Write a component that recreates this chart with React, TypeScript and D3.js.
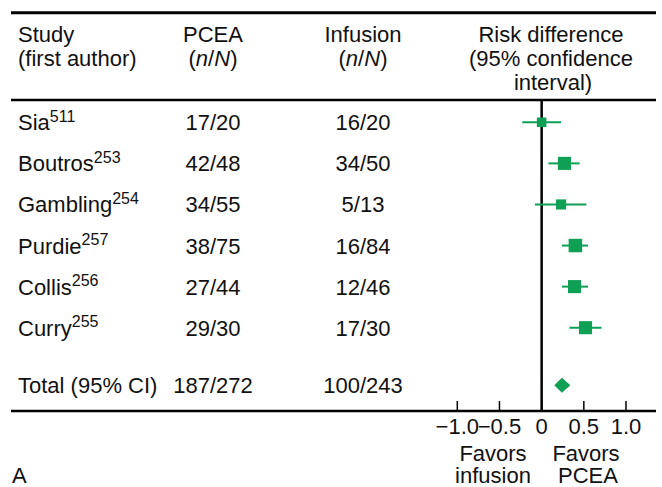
import * as d3 from 'd3';

// study rows
const studies = ['Sia', 'Boutros', 'Gambling', 'Purdie', 'Collis', 'Curry'];
const refs = ['511', '253', '254', '257', '256', '255'];
const pceaN = [17, 42, 34, 38, 27, 29];
const pceaTotal = [20, 48, 55, 75, 44, 30];
const infN = [16, 34, 5, 16, 12, 17];
const infTotal = [20, 50, 13, 84, 46, 30];
const rd = [0.0, 0.27, 0.23, 0.4, 0.39, 0.52];
const lower = [-0.23, 0.08, -0.08, 0.24, 0.24, 0.33];
const upper = [0.23, 0.45, 0.53, 0.55, 0.55, 0.71];
const weights = [8, 15, 9, 16, 15, 15];

// pooled result
const totalLabel = 'Total (95% CI)';
const totalPcea = '187/272';
const totalInf = '100/243';
const totalRd = 0.24;
const totalCi = [0.15, 0.34];

const ticks = [-1, -0.5, 0, 0.5, 1];

const W = 662;
const H = 487;
const FONT = '"Liberation Sans", Arial, Helvetica, sans-serif';
const GREEN = '#0f9f55';

const App = () => {
  const x = d3.scaleLinear().domain([-1, 1]).range([457.3, 626]);
  const y = d3.scaleLinear().domain([0, 5]).range([122.3, 327.7]);
  const size = d3.scaleSqrt().domain([0, d3.max(weights) as number]).range([0, 13.5]);
  const fmt = (v: number) => (v === 0 ? '0' : d3.format('.1f')(v));

  const left = 11;
  const right = 656;
  const axisY = 411;
  const colName = 18;
  const colPcea = 213;
  const colInf = 363;
  const colRd = 551;
  const totalY = y(6.4);
  const diamond = d3.line<[number, number]>();

  return (
    <svg
      width={W}
      height={H}
      style={{ position: 'absolute', left: 0, top: 0, background: '#fff' }}
      fontFamily={FONT}
      fontSize={22}
      fill="#111"
    >
      {/* rules */}
      <line x1={left} x2={right} y1={12.7} y2={12.7} stroke="#000" strokeWidth={3} />
      <line x1={left} x2={right} y1={100} y2={100} stroke="#000" strokeWidth={2.5} />
      <line x1={left} x2={right} y1={axisY} y2={axisY} stroke="#000" strokeWidth={2.5} />
      <line x1={x(0)} x2={x(0)} y1={100} y2={axisY} stroke="#000" strokeWidth={2.5} />

      {/* header */}
      <g>
        <text x={colName} y={41.5}>Study</text>
        <text x={colName} y={65.5}>(first author)</text>
        <text x={colPcea} y={41.5} textAnchor="middle">PCEA</text>
        <text x={colPcea} y={65.5} textAnchor="middle">
          (<tspan fontStyle="italic">n</tspan>/<tspan fontStyle="italic">N</tspan>)
        </text>
        <text x={colInf} y={41.5} textAnchor="middle">Infusion</text>
        <text x={colInf} y={65.5} textAnchor="middle">
          (<tspan fontStyle="italic">n</tspan>/<tspan fontStyle="italic">N</tspan>)
        </text>
        <text x={colRd} y={41.5} textAnchor="middle">Risk difference</text>
        <text x={colRd} y={65.5} textAnchor="middle">(95% confidence</text>
        <text x={colRd + 2} y={89.5} textAnchor="middle">interval)</text>
      </g>

      {/* rows */}
      {studies.map((s, i) => {
        const cy = y(i);
        const sz = size(weights[i]);
        return (
          <g key={s}>
            <text x={colName} y={cy + 8}>
              {s}
              <tspan fontSize={16} dy={-8.5}>{refs[i]}</tspan>
            </text>
            <text x={colPcea} y={cy + 8} textAnchor="middle">
              {pceaN[i]}/{pceaTotal[i]}
            </text>
            <text x={colInf} y={cy + 8} textAnchor="middle">
              {infN[i]}/{infTotal[i]}
            </text>
            <line x1={x(lower[i])} x2={x(upper[i])} y1={cy} y2={cy} stroke={GREEN} strokeWidth={2} />
            <rect x={x(rd[i]) - sz / 2} y={cy - sz / 2} width={sz} height={sz} fill={GREEN} />
          </g>
        );
      })}

      {/* total */}
      <text x={colName} y={totalY + 8}>{totalLabel}</text>
      <text x={colPcea} y={totalY + 8} textAnchor="middle">{totalPcea}</text>
      <text x={colInf} y={totalY + 8} textAnchor="middle">{totalInf}</text>
      <path
        d={
          diamond([
            [x(totalCi[0]), totalY],
            [x(totalRd), totalY - 7.5],
            [x(totalCi[1]), totalY],
            [x(totalRd), totalY + 7.5],
          ]) + 'Z'
        }
        fill={GREEN}
      />

      {/* axis */}
      {ticks.map((t) => (
        <g key={t}>
          <line x1={x(t)} x2={x(t)} y1={axisY - 10} y2={axisY} stroke="#000" strokeWidth={1.5} />
          <text x={x(t)} y={434} textAnchor="middle">{fmt(t)}</text>
        </g>
      ))}
      <text x={493} y={460.5} textAnchor="middle">Favors</text>
      <text x={493} y={482.5} textAnchor="middle">infusion</text>
      <text x={586} y={460.5} textAnchor="middle">Favors</text>
      <text x={588} y={482.5} textAnchor="middle">PCEA</text>

      <text x={12} y={482.5}>A</text>
    </svg>
  );
};

export default App;
